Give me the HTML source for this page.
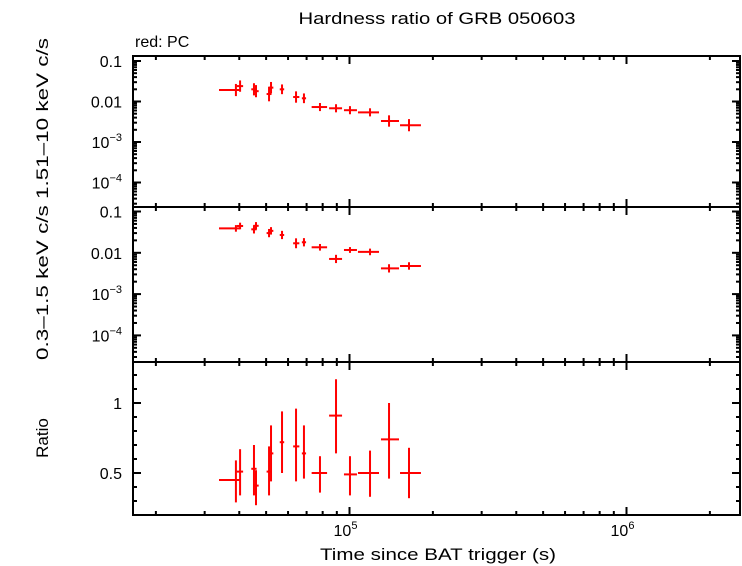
<!DOCTYPE html>
<html><head><meta charset="utf-8"><style>body{margin:0;background:#fff}svg{display:block;font-family:"Liberation Sans",sans-serif}</style></head>
<body>
<svg id="c" width="742" height="566"></svg>
<script>
const times=[38900,40270,45200,45970,51230,52080,57070,64120,68480,78240,89400,100400,118600,138900,164000];
const tLo=[33800,39200,44200,45000,50200,51100,56000,62600,67300,73000,84400,95500,107300,129900,152200];
const tHi=[40270,41300,46200,47000,52300,53100,58100,65900,69700,83000,94000,106400,127800,150900,181100];
const hard=[0.0192,0.024,0.020,0.018,0.0153,0.022,0.020,0.0129,0.0120,0.0073,0.0068,0.0061,0.0054,0.0033,0.0026];
const hardErr=[0.15,0.14,0.15,0.15,0.18,0.14,0.12,0.14,0.12,0.1,0.1,0.1,0.1,0.14,0.15];
const soft=[0.039,0.0446,0.037,0.045,0.030,0.034,0.027,0.017,0.018,0.0136,0.0071,0.0117,0.0105,0.0042,0.0048];
const softErr=[0.08,0.08,0.1,0.09,0.1,0.09,0.1,0.12,0.1,0.08,0.1,0.07,0.08,0.1,0.09];
const ratio=[0.45,0.51,0.53,0.41,0.51,0.64,0.72,0.69,0.64,0.50,0.91,0.49,0.50,0.74,0.50];
const rLo=[0.29,0.34,0.34,0.27,0.34,0.44,0.50,0.44,0.46,0.36,0.64,0.34,0.33,0.46,0.32];
const rHi=[0.59,0.67,0.70,0.52,0.69,0.84,0.94,0.96,0.84,0.62,1.17,0.62,0.66,1.0,0.68];

const NS='http://www.w3.org/2000/svg',svg=document.getElementById('c');
function el(t,a,p){const e=document.createElementNS(NS,t);for(const k in a)e.setAttribute(k,a[k]);(p||svg).appendChild(e);return e;}
const L=133,R=740;
const X=t=>349.5+277*(Math.log10(t)-5);
const P=[{top:56,bot:207,Y:v=>61+40.5*(-1-Math.log10(v))},
         {top:207,bot:362,Y:v=>211.5+41.3*(-1-Math.log10(v))},
         {top:362,bot:515,Y:v=>403+140*(1-v)}];
let t=el('text',{x:437,y:24,'text-anchor':'middle','font-size':17,textLength:277,lengthAdjust:'spacingAndGlyphs'});t.textContent='Hardness ratio of GRB 050603';

t=el('text',{x:135,y:47,'font-size':16});t.textContent='red: PC';

P.forEach((p,i)=>{
  const g=el('g',{stroke:'#000','stroke-width':2,fill:'none'});
  
  el('rect',{x:L,y:p.top,width:R-L,height:p.bot-p.top},g);
  for(let d=4;d<=6;d++)for(let m=1;m<10;m++){const v=m*Math.pow(10,d);const x=X(v);if(x<L||x>R)continue;const len=m==1?8:4;
    el('line',{x1:x,x2:x,y1:p.bot,y2:p.bot-len},g);el('line',{x1:x,x2:x,y1:p.top,y2:p.top+len},g);}
  if(i<2){for(let d=-5;d<=-1;d++)for(let m=1;m<10;m++){const v=m*Math.pow(10,d);const y=p.Y(v);if(y<p.top||y>p.bot)continue;const len=m==1?8:4;
    el('line',{x1:L,x2:L+len,y1:y,y2:y},g);el('line',{x1:R,x2:R-len,y1:y,y2:y},g);}}
  else{for(let k=2;k<=12;k++){const v=k/10;const y=p.Y(v);if(y<p.top||y>p.bot)continue;const len=(k%5==0)?8:4;
    el('line',{x1:L,x2:L+len,y1:y,y2:y},g);el('line',{x1:R,x2:R-len,y1:y,y2:y},g);}}
});
function lab(x,y,txt,sup,name){const e=el('text',{x:x,y:y,'text-anchor':'end','font-size':16});
  
  if(sup){const a=el('tspan',{},e);a.textContent=txt;const b=el('tspan',{dy:-7,'font-size':11},e);b.textContent=sup;}else e.textContent=txt;}
[0,1].forEach(i=>{const p=P[i];lab(122,p.Y(0.1)+6,'0.1','','y-tick');lab(122,p.Y(0.01)+6,'0.01','','y-tick');
  lab(122,p.Y(0.001)+6,'10','−3','y-tick');lab(122,p.Y(0.0001)+6,'10','−4','y-tick');});
lab(122,P[2].Y(1)+6,'1','','y-tick');lab(122,P[2].Y(0.5)+6,'0.5','','y-tick');
[[1e5,'5'],[1e6,'6']].forEach(([v,s])=>{const e=el('text',{x:X(v)-4,y:536,'text-anchor':'middle','font-size':16});
  
  const a=el('tspan',{},e);a.textContent='10';const b=el('tspan',{dy:-7,'font-size':11},e);b.textContent=s;});
t=el('text',{x:438,y:560,'text-anchor':'middle','font-size':17,textLength:236,lengthAdjust:'spacingAndGlyphs'});t.textContent='Time since BAT trigger (s)';

function ylab(y,s,n,len){const a={x:0,y:0,'text-anchor':'middle','font-size':17,transform:'translate(48,'+y+') rotate(-90)'};
  if(len){a.textLength=len;a.lengthAdjust='spacingAndGlyphs';}
  const e=el('text',a);e.textContent=s;
  }
ylab(199,'0.3–1.5 keV c/s  1.51–10 keV c/s','y-axis-title-counts',322);
ylab(438,'Ratio','y-axis-title-ratio');
function series(vals,lo,hi,p,name){const g=el('g',{stroke:'#f00','stroke-width':2});
  
  vals.forEach((v,i)=>{const x=X(times[i]),y=p.Y(v);
    const m=el('line',{x1:X(tLo[i]),x2:X(tHi[i]),y1:y,y2:y},g);
    
    const n=el('line',{x1:x,x2:x,y1:p.Y(lo[i]),y2:p.Y(hi[i])},g);
    });}
series(hard,hard.map((v,i)=>v/Math.pow(10,hardErr[i])),hard.map((v,i)=>v*Math.pow(10,hardErr[i])),P[0],'hard-series');
series(soft,soft.map((v,i)=>v/Math.pow(10,softErr[i])),soft.map((v,i)=>v*Math.pow(10,softErr[i])),P[1],'soft-series');
series(ratio,rLo,rHi,P[2],'ratio-series');
</script>
</body></html>
